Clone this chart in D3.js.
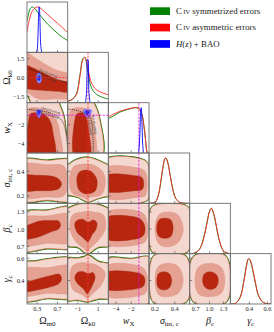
<!DOCTYPE html>
<html><head><meta charset="utf-8">
<script src="https://cdn.jsdelivr.net/npm/d3@7"></script>
<style>body{margin:0;background:#fff}svg{display:block}</style>
</head><body>
<svg id="c" width="274" height="332"></svg>
<script>
// ---------------- DATA ----------------
const paramNames = ["Ωm0","Ωk0","wX","σint,c","βc","γc"];
const domOm=[0.1,0.9], domOk=[-2,2], domW=[-5,0.33], domSig=[0.14,0.55], domBeta=[0.57,1.45], domGam=[0.19,0.64];
const domains=[domOm,domOk,domW,domSig,domBeta,domGam];
const xTicks=[[0.3,0.7],[-1,1],[-4,-2],[0.2,0.4],[0.7,1.0,1.3],[0.4,0.6]];
const xTickLabels=[["0.3","0.7"],["−1","1"],["−4","−2"],["0.2","0.4"],["0.7","1.0","1.3"],["0.4","0.6"]];
const yTicks=[[],[1.5,0,-1.5],[-2,-4],[0.4,0.2],[1.3,1.0,0.7],[0.6,0.4]];
const yTickLabels=[[],["1.5","0.0","−1.5"],["−2","−4"],["0.4","0.2"],["1.3","1.0","0.7"],["0.6","0.4"]];
const legendLabels=["symmetrized errors","asymmetric errors","BAO"];
const refOk0=0, refW=-1;

// 1D marginals (x grid, normalised density)
const omGrid=[0.1,0.13,0.16,0.2,0.25,0.3,0.34,0.4,0.5,0.6,0.7,0.8,0.9];
const omRed=[0.45,0.63,0.78,0.9,0.97,1.0,1.0,0.94,0.84,0.74,0.64,0.54,0.44];
const omGreen=[0.68,0.84,0.96,1.0,0.97,0.9,0.84,0.76,0.63,0.52,0.42,0.33,0.26];
const omBlueGrid=[0.28,0.3,0.31,0.32,0.33,0.34,0.35,0.36,0.37,0.39];
const omBlue=[0,0.05,0.2,0.5,0.85,1.0,0.85,0.45,0.15,0];
const okGrid=[-2,-1.5,-1.1,-0.8,-0.5,-0.3,-0.1,0.05,0.35,0.85,1.4,2];
const okRed=[0.03,0.08,0.2,0.57,0.95,1.0,0.85,0.7,0.43,0.28,0.22,0.17];
const okGreen=[0.03,0.08,0.22,0.6,0.97,1.0,0.8,0.6,0.32,0.18,0.12,0.08];
const okBlueGrid=[-0.25,-0.15,-0.1,-0.05,0,0.05,0.1,0.2];
const okBlue=[0,0.2,0.6,0.95,0.95,0.6,0.2,0];
const wGrid=[-5,-4.5,-4,-3.5,-3,-2.5,-2,-1.5,-1,-0.6,-0.3,-0.1,0,0.1,0.33];
const wRed=[0.8,0.84,0.88,0.92,0.95,0.97,0.99,1.0,0.98,0.85,0.55,0.25,0.08,0.01,0];
const wGreen=[0.76,0.8,0.85,0.9,0.93,0.96,0.98,1.0,0.98,0.85,0.55,0.25,0.08,0.01,0];
const wBlueGrid=[-1.05,-0.95,-0.85,-0.75,-0.68,-0.6,-0.5,-0.4];
const wBlue=[0,0.15,0.5,0.95,1.0,0.7,0.2,0];
const sigGrid=[0.14,0.2,0.23,0.26,0.28,0.3,0.31,0.33,0.35,0.38,0.41,0.45,0.5,0.55];
const sigRed=[0,0.02,0.15,0.5,0.8,0.99,1.0,0.88,0.65,0.3,0.1,0.02,0,0];
const sigGreen=[0,0.02,0.14,0.48,0.78,0.98,1.0,0.9,0.67,0.32,0.11,0.02,0,0];
const betaGrid=[0.57,0.7,0.8,0.9,0.95,1.0,1.04,1.1,1.15,1.2,1.3,1.4,1.45];
const betaRed=[0,0.02,0.12,0.45,0.7,0.93,1.0,0.85,0.6,0.35,0.06,0.01,0];
const betaGreen=[0,0.02,0.13,0.47,0.72,0.94,1.0,0.83,0.58,0.33,0.06,0.01,0];
const gamGrid=[0.19,0.25,0.3,0.34,0.37,0.39,0.41,0.44,0.47,0.5,0.55,0.6,0.64];
const gamRed=[0,0.02,0.15,0.5,0.85,1.0,0.97,0.75,0.45,0.2,0.04,0.005,0];
const gamGreen=[0,0.02,0.16,0.52,0.87,1.0,0.95,0.72,0.43,0.19,0.04,0.005,0];

// 2D contours [x,y] in data units: L3 (outer), L2, L1 (inner)
const kM3=[[0.0,2.3],[0.76,2.3],[1.0,1.5],[1.0,-2.3],[0.22,-2.3],[0.16,-1.8],[0.12,-1.45],[0.0,-1.2]];
const kM2=[[0.0,2.1],[0.3,1.45],[0.5,0.95],[0.7,0.55],[1.0,0.15],[1.0,-1.55],[0.6,-1.7],[0.4,-1.75],[0.26,-1.6],[0.18,-1.4],[0.12,-1.2],[0.0,-1.0]];
const kM1=[[0.0,1.0],[0.2,0.8],[0.35,0.5],[0.5,0.2],[0.7,-0.2],[1.0,-0.5],[1.0,-1.15],[0.7,-1.1],[0.5,-1.05],[0.3,-1.0],[0.18,-0.95],[0.1,-0.9],[0.0,-0.85]];
const kMBlue2=[[0.3,0.3],[0.35,0.35],[0.39,0.05],[0.37,-0.4],[0.32,-0.45],[0.29,-0.1]];
const kMBlue1=[[0.32,0.1],[0.35,0.12],[0.36,-0.1],[0.34,-0.25],[0.31,-0.15]];
const decelKM=[[0.1,0.75],[0.9,-0.45]];

const wM3=[[0.0,-5.5],[0.0,0.6],[0.7,0.6],[0.75,0.0],[0.82,-1.0],[0.86,-2.5],[0.88,-5.5]];
const wM2=[[0.11,-5.5],[0.11,-0.6],[0.15,-0.25],[0.3,-0.2],[0.45,-0.4],[0.6,-0.9],[0.7,-1.8],[0.75,-3],[0.77,-5.5]];
const wM1=[[0.14,-5.5],[0.14,-1.3],[0.17,-0.85],[0.25,-0.75],[0.38,-0.8],[0.5,-1.2],[0.57,-1.8],[0.61,-2.8],[0.64,-5.5]];
const wMBlue2=[[0.29,-0.45],[0.39,-0.45],[0.38,-0.8],[0.34,-1.3],[0.3,-1.0]];
const wMBlue1=[[0.31,-0.55],[0.36,-0.55],[0.35,-0.8],[0.33,-1.0],[0.31,-0.8]];
const decelWM=[[0.1,-0.37],[0.3,-0.48],[0.5,-0.67],[0.6,-0.83],[0.7,-1.1],[0.75,-1.35],[0.8,-1.7],[0.84,-2.2],[0.87,-3.0],[0.89,-4.0],[0.9,-5.0]];

const wK3=[[-2.3,-5.5],[-2.3,0.6],[0.3,0.6],[0.8,-0.2],[1.1,-1.2],[1.3,-5.5]];
const wK2=[[-1.8,-5.5],[-1.8,-0.8],[-1.5,-0.3],[-0.8,-0.2],[-0.2,-0.3],[0.2,-0.8],[0.5,-1.8],[0.65,-5.5]];
const wK1=[[-1.3,-5.5],[-1.3,-1.5],[-1.1,-0.9],[-0.7,-0.75],[-0.3,-0.9],[-0.1,-1.5],[0.05,-2.5],[0.15,-5.5]];
const wKBlue2=[[-0.45,-0.45],[0.35,-0.45],[0.3,-0.8],[0.0,-1.3],[-0.3,-1.0]];
const wKBlue1=[[-0.25,-0.55],[0.15,-0.55],[0.1,-0.8],[-0.05,-1.0],[-0.2,-0.8]];
const decelWK=[[-2,-0.35],[-1.3,-0.44],[-0.5,-0.7],[0,-1.0],[0.3,-1.5],[0.45,-2.5],[0.5,-3.5],[0.52,-5]];

const sM3=[[0.0,0.487],[0.5,0.49],[1.0,0.485],[1.0,0.168],[0.5,0.165],[0.0,0.167]];
const sM2=[[0.0,0.452],[0.5,0.455],[0.8,0.45],[0.88,0.4],[0.9,0.32],[0.88,0.24],[0.8,0.195],[0.5,0.192],[0.0,0.194]];
const sM1=[[0.0,0.365],[0.3,0.368],[0.6,0.36],[0.73,0.335],[0.78,0.3],[0.73,0.26],[0.6,0.245],[0.3,0.243],[0.0,0.245]];
const sK3=[[-2.3,0.45],[-2.0,0.452],[-1.3,0.49],[-0.1,0.515],[1.0,0.49],[2.0,0.452],[2.3,0.45],[2.3,0.19],[2.0,0.197],[1.0,0.18],[0.0,0.152],[-1.0,0.19],[-2.0,0.208],[-2.3,0.21]];
const sK2=[[-1.8,0.36],[-1.4,0.44],[-0.4,0.46],[0.6,0.45],[1.5,0.39],[1.7,0.3],[1.3,0.21],[0.2,0.19],[-0.1,0.175],[-0.5,0.19],[-1.5,0.22],[-1.8,0.28]];
const sK1=[[-1.1,0.34],[-0.9,0.39],[-0.4,0.41],[0.3,0.4],[0.8,0.35],[0.9,0.3],[0.7,0.24],[0.2,0.22],[-0.4,0.22],[-0.9,0.25]];
const sW3=[[-5.5,0.493],[-0.3,0.493],[0.25,0.45],[0.33,0.3],[0.25,0.18],[-0.3,0.153],[-5.5,0.153]];
const sW2=[[-5.5,0.425],[-1,0.425],[-0.2,0.4],[0.1,0.3],[-0.2,0.2],[-1,0.19],[-5.5,0.19]];
const sW1=[[-5.5,0.363],[-1.5,0.365],[-0.6,0.35],[-0.35,0.3],[-0.6,0.25],[-1.5,0.243],[-5.5,0.243]];

const bM3=[[0.0,1.27],[0.5,1.33],[1.0,1.37],[1.0,0.69],[0.5,0.66],[0.0,0.63]];
const bM2=[[0.0,1.185],[0.5,1.23],[1.0,1.25],[1.0,0.78],[0.5,0.75],[0.0,0.72]];
const bM1=[[0.0,1.05],[0.12,1.07],[0.35,1.14],[0.6,1.15],[0.72,1.14],[0.76,1.07],[0.72,1.0],[0.6,0.96],[0.35,0.87],[0.12,0.82],[0.0,0.81]];
const bK3=[[-2.3,1.3],[-1.5,1.4],[-0.07,1.45],[1.5,1.4],[2.3,1.3],[2.3,0.72],[1.0,0.68],[-0.07,0.57],[-1.0,0.68],[-2.3,0.72]];
const bK2=[[-1.77,1.0],[-1.5,1.25],[-0.5,1.3],[0.5,1.3],[1.5,1.25],[1.7,1.0],[1.0,0.8],[0.2,0.66],[-0.07,0.6],[-0.4,0.66],[-1.2,0.78]];
const bK1=[[-1.3,1.1],[-1.0,1.16],[-0.5,1.17],[0.0,1.12],[0.5,1.16],[0.85,1.12],[0.8,1.0],[0.4,0.9],[0.0,0.78],[-0.5,0.85],[-1.1,0.95]];
const bW3=[[-5.5,1.42],[0.5,1.43],[0.5,0.6],[-5.5,0.6]];
const bW2=[[-5.5,1.28],[-0.5,1.28],[0.1,1.1],[0.15,1.0],[0.0,0.82],[-0.5,0.75],[-5.5,0.75]];
const bW1=[[-5.5,1.19],[-1.0,1.19],[-0.35,1.1],[-0.19,1.01],[-0.35,0.9],[-1.0,0.84],[-5.5,0.84]];
const bS3=[[0.2,1.42],[0.5,1.42],[0.546,1.35],[0.546,0.65],[0.5,0.58],[0.2,0.575],[0.157,0.65],[0.157,1.35]];
const bS2=[[0.33,1.3],[0.43,1.25],[0.485,1.0],[0.43,0.76],[0.33,0.69],[0.24,0.74],[0.2,1.0],[0.24,1.25]];
const bS1=[[0.3,1.19],[0.36,1.16],[0.383,1.015],[0.36,0.87],[0.3,0.84],[0.24,0.87],[0.217,1.015],[0.24,1.16]];

const gM3=[[0.0,0.55],[0.3,0.575],[0.6,0.598],[1.0,0.59],[1.0,0.255],[0.5,0.24],[0.0,0.225]];
const gM2=[[0.0,0.494],[0.5,0.515],[1.0,0.525],[1.0,0.3],[0.5,0.285],[0.0,0.27]];
const gM1=[[0.0,0.38],[0.13,0.392],[0.4,0.425],[0.62,0.45],[0.74,0.455],[0.78,0.41],[0.72,0.37],[0.5,0.335],[0.3,0.315],[0.13,0.3],[0.0,0.295]];
const gK3=[[-2.3,0.59],[-1.0,0.6],[-0.3,0.615],[-0.07,0.628],[0.3,0.615],[1.0,0.57],[2.3,0.535],[2.3,0.25],[1.0,0.235],[-0.07,0.21],[-1.0,0.225],[-2.3,0.23]];
const gK2=[[-1.77,0.46],[-1.4,0.54],[-0.5,0.56],[0.0,0.555],[0.8,0.54],[1.67,0.47],[1.3,0.36],[0.3,0.27],[-0.07,0.24],[-0.5,0.27],[-1.5,0.32]];
const gK1=[[-1.3,0.43],[-1.0,0.475],[-0.5,0.48],[0.0,0.46],[0.5,0.47],[0.7,0.43],[0.5,0.37],[0.1,0.3],[-0.07,0.28],[-0.4,0.32],[-1.1,0.38]];
const gW3=[[-5.5,0.585],[-2,0.595],[0.5,0.605],[0.5,0.21],[-5.5,0.21]];
const gW2=[[-5.5,0.524],[-0.6,0.52],[0.05,0.45],[0.1,0.38],[0.0,0.3],[-0.6,0.27],[-5.5,0.27]];
const gW1=[[-5.5,0.465],[-1.0,0.465],[-0.4,0.44],[-0.19,0.4],[-0.4,0.35],[-1.0,0.33],[-5.5,0.33]];
const gS3=[[0.2,0.628],[0.5,0.625],[0.546,0.55],[0.546,0.26],[0.5,0.2],[0.2,0.196],[0.157,0.26],[0.157,0.56]];
const gS2=[[0.32,0.554],[0.43,0.53],[0.485,0.41],[0.44,0.29],[0.33,0.255],[0.24,0.27],[0.2,0.4],[0.23,0.52]];
const gS1=[[0.29,0.479],[0.345,0.46],[0.368,0.4],[0.345,0.335],[0.29,0.315],[0.235,0.335],[0.218,0.4],[0.235,0.46]];
const gB3=[[0.7,0.628],[1.32,0.628],[1.425,0.55],[1.425,0.26],[1.32,0.196],[0.7,0.196],[0.59,0.26],[0.59,0.56]];
const gB2=[[1.0,0.554],[1.25,0.52],[1.33,0.4],[1.25,0.285],[1.0,0.255],[0.76,0.28],[0.685,0.4],[0.76,0.52]];
const gB1=[[1.01,0.479],[1.14,0.455],[1.19,0.4],[1.14,0.34],[1.01,0.32],[0.89,0.345],[0.85,0.405],[0.89,0.46]];

// ---------------- LAYOUT / STYLE ----------------
const gridLeft=27, gridTop=2, pw=40.67, ph=50.33;
const cRed="#ff2a2a", cGreen="#008000", cBlue="#0000ff", cMag="#ee00ee";
const fill3="#f4d7cf", fill2="#e5a293", fill1="#b8260f";
const serif="'Liberation Serif','DejaVu Serif',serif";

const panels1D=[
 {i:0,grid:omGrid,red:omRed,green:omGreen,bgrid:omBlueGrid,blue:omBlue},
 {i:1,grid:okGrid,red:okRed,green:okGreen,bgrid:okBlueGrid,blue:okBlue,ref:refOk0,refColor:cRed},
 {i:2,grid:wGrid,red:wRed,green:wGreen,bgrid:wBlueGrid,blue:wBlue,ref:refW,refColor:cMag},
 {i:3,grid:sigGrid,red:sigRed,green:sigGreen},
 {i:4,grid:betaGrid,red:betaRed,green:betaGreen},
 {i:5,grid:gamGrid,red:gamRed,green:gamGreen}
];
const panels2D=[
 {r:1,c:0,L:[kM3,kM2,kM1],B:[kMBlue2,kMBlue1],decel:decelKM,dLab:[0,1]},
 {r:2,c:0,L:[wM3,wM2,wM1],B:[wMBlue2,wMBlue1],decel:decelWM,dLab:[2,3]},
 {r:2,c:1,L:[wK3,wK2,wK1],B:[wKBlue2,wKBlue1],decel:decelWK,dLab:[4,5]},
 {r:3,c:0,L:[sM3,sM2,sM1]},{r:3,c:1,L:[sK3,sK2,sK1]},{r:3,c:2,L:[sW3,sW2,sW1]},
 {r:4,c:0,L:[bM3,bM2,bM1]},{r:4,c:1,L:[bK3,bK2,bK1]},{r:4,c:2,L:[bW3,bW2,bW1]},{r:4,c:3,L:[bS3,bS2,bS1]},
 {r:5,c:0,L:[gM3,gM2,gM1]},{r:5,c:1,L:[gK3,gK2,gK1]},{r:5,c:2,L:[gW3,gW2,gW1]},{r:5,c:3,L:[gS3,gS2,gS1]},{r:5,c:4,L:[gB3,gB2,gB1]}
];

const svg=d3.select("#c");
const defs=svg.append("defs");
const px0=c=>gridLeft+c*pw, py0=r=>gridTop+r*ph;
const xs=c=>d3.scaleLinear().domain(domains[c]).range([px0(c),px0(c)+pw]);
const ys=r=>d3.scaleLinear().domain(domains[r]).range([py0(r)+ph,py0(r)]);
function clipFor(r,c){
  const id=`cp${r}${c}`;
  defs.append("clipPath").attr("id",id).append("rect").attr("x",px0(c)).attr("y",py0(r)).attr("width",pw).attr("height",ph);
  return `url(#${id})`;
}
function dashV(gg,x,y0,y1,col){gg.append("line").attr("x1",x).attr("x2",x).attr("y1",y0).attr("y2",y1).attr("stroke",col).attr("stroke-width",0.8).attr("stroke-dasharray","2.2,1.3");}
function dashH(gg,y,x0,x1,col){gg.append("line").attr("x1",x0).attr("x2",x1).attr("y1",y).attr("y2",y).attr("stroke",col).attr("stroke-width",0.8).attr("stroke-dasharray","2.2,1.3");}

// 2D panels
panels2D.forEach(p=>{
  const x=xs(p.c), y=ys(p.r);
  const gg=svg.append("g").attr("clip-path",clipFor(p.r,p.c));
  const ln=d3.line().x(d=>x(d[0])).y(d=>y(d[1])).curve(d3.curveCatmullRomClosed.alpha(0.5));
  gg.append("path").attr("d",ln(p.L[0])).attr("fill","none").attr("stroke",cGreen).attr("stroke-width",1.9);
  gg.append("path").attr("d",ln(p.L[0])).attr("fill",fill3).attr("stroke","#f0604f").attr("stroke-width",0.6);
  gg.append("path").attr("d",ln(p.L[1])).attr("fill",fill2).attr("stroke","#d98e7f").attr("stroke-width",0.4);
  gg.append("path").attr("d",ln(p.L[2])).attr("fill",fill1).attr("stroke","#9c2a12").attr("stroke-width",0.4);
  if(p.B){
    gg.append("path").attr("d",ln(p.B[0])).attr("fill","#8c8cff").attr("stroke","#5050ff").attr("stroke-width",0.4);
    gg.append("path").attr("d",ln(p.B[1])).attr("fill","#2a2aff").attr("stroke","#0000cc").attr("stroke-width",0.3);
  }
  if(p.decel){
    const dl2=d3.line().x(d=>x(d[0])).y(d=>y(d[1])).curve(d3.curveCatmullRom);
    gg.append("path").attr("d",dl2(p.decel)).attr("fill","none").attr("stroke","#111").attr("stroke-width",0.7).attr("stroke-dasharray","1.2,0.9");
    const k=Math.min(p.dLab[0],p.decel.length-2);
    const a=p.decel[k], b=p.decel[k+1];
    const ax=x(a[0]),ay=y(a[1]),bx=x(b[0]),by=y(b[1]);
    let ang=Math.atan2(by-ay,bx-ax)*180/Math.PI;
    const mx=(ax+bx)/2,my=(ay+by)/2;
    const len=Math.hypot(bx-ax,by-ay), nx=(by-ay)/len, ny=-(bx-ax)/len;
    [["Decelerating",1],["Accelerating",-1]].forEach(([t,s])=>{
      const off=s*2.4;
      gg.append("text").attr("transform",`translate(${mx+nx*off},${my+ny*off}) rotate(${ang})`)
        .attr("text-anchor","middle").attr("dominant-baseline","central")
        .attr("font-family",serif).attr("font-size",3.8).attr("fill","#333").text(t);
    });
  }
  if(p.c===1) dashV(gg,x(refOk0),py0(p.r),py0(p.r)+ph,cRed);
  if(p.r===1) dashH(gg,y(refOk0),px0(p.c),px0(p.c)+pw,cRed);
  if(p.c===2) dashV(gg,x(refW),py0(p.r),py0(p.r)+ph,cMag);
  if(p.r===2) dashH(gg,y(refW),px0(p.c),px0(p.c)+pw,cMag);
});

// 1D panels
panels1D.forEach(p=>{
  const i=p.i, x=xs(i);
  const y=d3.scaleLinear().domain([0,1.11]).range([py0(i)+ph,py0(i)]);
  const gg=svg.append("g").attr("clip-path",clipFor(i,i));
  const ln=d3.line().x(d=>x(d[0])).y(d=>y(d[1])).curve(d3.curveCatmullRom.alpha(0.5));
  if(p.ref!==undefined) dashV(gg,x(p.ref),py0(i),py0(i)+ph,p.refColor);
  gg.append("path").attr("d",ln(d3.zip(p.grid,p.green))).attr("fill","none").attr("stroke",cGreen).attr("stroke-width",0.9);
  gg.append("path").attr("d",ln(d3.zip(p.grid,p.red))).attr("fill","none").attr("stroke",cRed).attr("stroke-width",0.9);
  if(p.blue) gg.append("path").attr("d",ln(d3.zip(p.bgrid,p.blue))).attr("fill","none").attr("stroke",cBlue).attr("stroke-width",0.9);
});

// frames, ticks, labels
for(let r=0;r<6;r++){
  for(let c=0;c<=r;c++){
    const x=xs(c), y=ys(r);
    svg.append("rect").attr("x",px0(c)).attr("y",py0(r)).attr("width",pw).attr("height",ph)
      .attr("fill","none").attr("stroke","#6e6e6e").attr("stroke-width",0.9);
    xTicks[c].forEach(t=>{
      svg.append("line").attr("x1",x(t)).attr("x2",x(t)).attr("y1",py0(r)+ph).attr("y2",py0(r)+ph-2.5).attr("stroke","#444").attr("stroke-width",0.6);
    });
    if(c!==r) yTicks[r].forEach(t=>{
      svg.append("line").attr("x1",px0(c)).attr("x2",px0(c)+2.5).attr("y1",y(t)).attr("y2",y(t)).attr("stroke","#444").attr("stroke-width",0.6);
    });
  }
}
for(let c=0;c<6;c++){
  const x=xs(c);
  xTicks[c].forEach((t,k)=>{
    svg.append("text").attr("x",x(t)).attr("y",311).attr("text-anchor","middle")
      .attr("font-family",serif).attr("font-size",6.3).attr("fill","#222").text(xTickLabels[c][k]);
  });
}
for(let r=1;r<6;r++){
  const y=ys(r);
  yTicks[r].forEach((t,k)=>{
    svg.append("text").attr("x",24.5).attr("y",y(t)).attr("text-anchor","end").attr("dominant-baseline","central")
      .attr("font-family",serif).attr("font-size",6.3).attr("fill","#222").text(yTickLabels[r][k]);
  });
}
const titleParts=[["Ω","m0",false],["Ω","k0",false],["w","X",true],["σ","int, c",true],["β","c",true],["γ","c",true]];
function title(sel,k){
  const [m,s,it]=titleParts[k];
  sel.append("tspan").attr("font-style",it?"italic":"normal").text(m);
  sel.append("tspan").attr("font-size",7).attr("dy",2.2).text(s);
}
for(let c=0;c<6;c++){
  const t=svg.append("text").attr("x",px0(c)+pw/2).attr("y",324).attr("text-anchor","middle")
    .attr("font-family",serif).attr("font-size",10).attr("fill","#111");
  title(t,c);
}
for(let r=1;r<6;r++){
  const t=svg.append("text").attr("transform",`translate(10,${py0(r)+ph/2}) rotate(-90)`).attr("text-anchor","middle")
    .attr("font-family",serif).attr("font-size",10).attr("fill","#111");
  title(t,r);
}
const legCols=[cGreen,"#ff0000",cBlue];
legCols.forEach((col,k)=>{
  const yy=7.3+k*16.4;
  svg.append("rect").attr("x",150).attr("y",yy).attr("width",20).attr("height",7.7).attr("fill",col);
  const t=svg.append("text").attr("x",176).attr("y",yy+6.6).attr("font-family",serif).attr("font-size",8.8).attr("fill","#222");
  if(k<2){
    t.append("tspan").text("C");
    t.append("tspan").attr("font-size",6.6).attr("dx",1.3).text("IV");
    t.append("tspan").attr("dx",2).text(legendLabels[k]);
  } else {
    t.append("tspan").attr("font-style","italic").text("H");
    t.append("tspan").text("(");
    t.append("tspan").attr("font-style","italic").text("z");
    t.append("tspan").text(") + "+legendLabels[k]);
  }
});
</script>
</body></html>
